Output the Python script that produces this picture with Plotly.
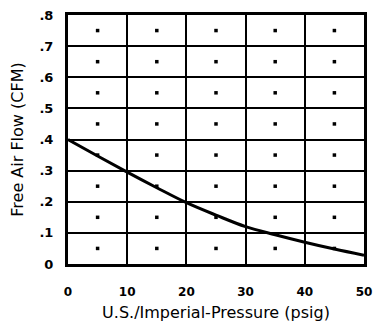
import plotly.graph_objects as go

# Free air flow versus pressure
pressure_psig = [0, 5, 10, 15, 20, 25, 30, 35, 40, 45, 50]
flow_cfm = [0.40, 0.347, 0.295, 0.245, 0.197, 0.157, 0.12, 0.094, 0.07, 0.048, 0.028]

x_ticks = [0, 10, 20, 30, 40, 50]
x_tick_labels = ["0", "10", "20", "30", "40", "50"]
y_ticks = [0, 0.1, 0.2, 0.3, 0.4, 0.5, 0.6, 0.7, 0.8]
y_tick_labels = ["0", ".1", ".2", ".3", ".4", ".5", ".6", ".7", ".8"]

# small marks at the centre of every grid cell
cell_x = [5, 15, 25, 35, 45]
cell_y = [0.05, 0.15, 0.25, 0.35, 0.45, 0.55, 0.65, 0.75]
dot_x = [cx for cy in cell_y for cx in cell_x]
dot_y = [cy for cy in cell_y for cx in cell_x]

font = "DejaVu Sans"

fig = go.Figure()
fig.add_trace(go.Scatter(
    x=dot_x, y=dot_y, mode="markers",
    marker=dict(symbol="square", size=3.5, color="black", line=dict(width=0)),
    hoverinfo="skip", showlegend=False,
))
fig.add_trace(go.Scatter(
    x=pressure_psig, y=flow_cfm, mode="lines",
    line=dict(color="black", width=3, shape="spline"),
    showlegend=False,
))

fig.update_layout(
    width=379, height=327,
    margin=dict(l=68, r=7, t=15, b=61),
    paper_bgcolor="white", plot_bgcolor="white",
    font=dict(family=font, color="black"),
)
fig.update_xaxes(
    range=[0, 50], tickvals=x_ticks, ticktext=x_tick_labels,
    showgrid=True, gridcolor="black", gridwidth=2, zeroline=False,
    showline=True, linecolor="black", linewidth=3, mirror=True,
    ticks="outside", ticklen=15, tickcolor="rgba(0,0,0,0)",
    tickfont=dict(family=font, size=12, color="black", weight="bold"),
    title=dict(text="U.S./Imperial-Pressure (psig)", standoff=9,
               font=dict(family=font, size=16, color="black")),
)
fig.update_yaxes(
    range=[0, 0.8], tickvals=y_ticks, ticktext=y_tick_labels,
    showgrid=True, gridcolor="black", gridwidth=2, zeroline=False,
    showline=True, linecolor="black", linewidth=3, mirror=True,
    ticks="outside", ticklen=9, tickcolor="rgba(0,0,0,0)",
    tickfont=dict(family=font, size=13, color="black", weight="bold"),
    title=dict(text="Free Air Flow (CFM)", standoff=12,
               font=dict(family=font, size=16, color="black")),
)

fig.write_html("out.html")
